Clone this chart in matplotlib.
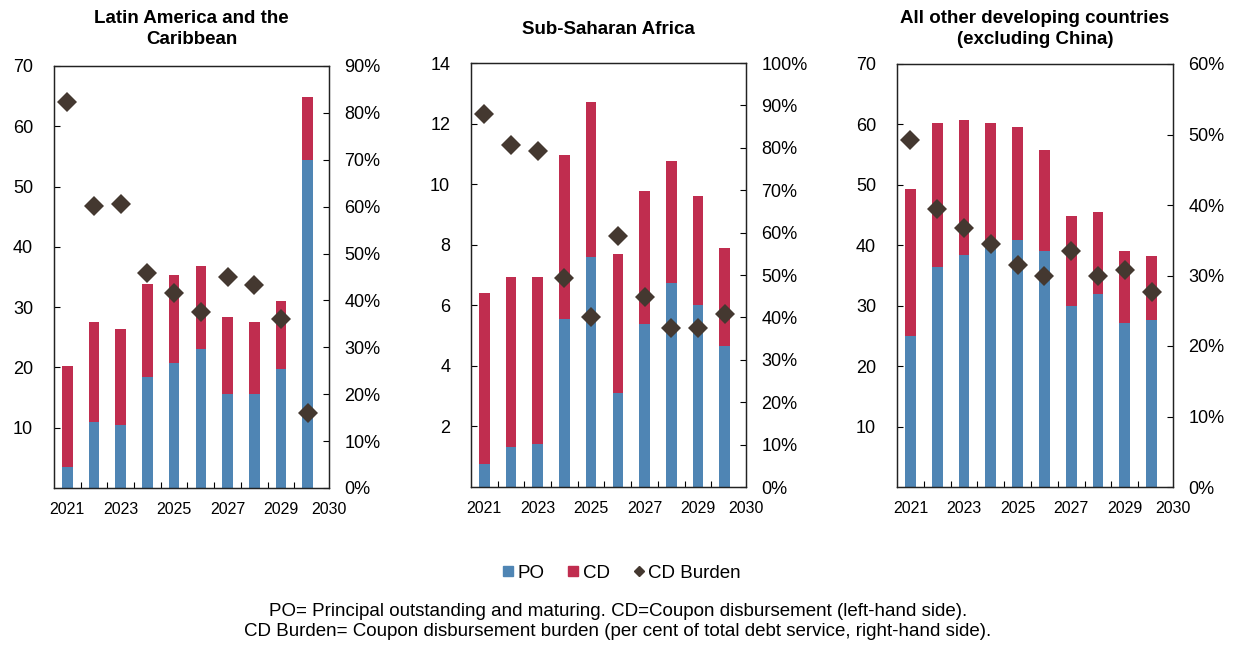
import matplotlib.pyplot as plt
from matplotlib.lines import Line2D
import numpy as np

years = [2021, 2022, 2023, 2024, 2025, 2026, 2027, 2028, 2029, 2030]
tick_labels = ["2021", "2023", "2025", "2027", "2029", "2030"]

# Latin America and the Caribbean
lac_po = [3.5, 11.0, 10.4, 18.4, 20.7, 23.1, 15.6, 15.6, 19.8, 54.4]
lac_total = [20.2, 27.5, 26.4, 33.9, 35.4, 36.8, 28.3, 27.6, 31.1, 64.9]
lac_burden = [82.3, 60.1, 60.5, 45.9, 41.6, 37.5, 45.0, 43.2, 36.1, 16.0]

# Sub-Saharan Africa
ssa_po = [0.77, 1.33, 1.43, 5.54, 7.61, 3.1, 5.39, 6.73, 6.0, 4.64]
ssa_total = [6.4, 6.92, 6.95, 10.96, 12.7, 7.69, 9.78, 10.77, 9.62, 7.88]
ssa_burden = [88.0, 80.6, 79.3, 49.4, 40.0, 59.3, 44.8, 37.5, 37.6, 40.9]

# All other developing countries (excluding China)
oth_po = [25.0, 36.4, 38.4, 39.9, 40.9, 39.0, 29.9, 31.9, 27.1, 27.7]
oth_total = [49.3, 60.2, 60.8, 60.3, 59.6, 55.8, 44.8, 45.5, 39.1, 38.3]
oth_burden = [49.2, 39.5, 36.8, 34.4, 31.5, 29.9, 33.5, 29.9, 30.8, 27.6]

BLUE = "#4f85b4"
RED = "#c02d4f"
DIAM = "#443830"
REG = ["Liberation Sans", "DejaVu Sans"]

panels = [
    dict(title="Latin America and the\nCaribbean", po=lac_po, tot=lac_total, bur=lac_burden,
         ymax=70, yticks=range(10, 71, 10), rmax=90, pos=[54, 66, 329, 488]),
    dict(title="Sub-Saharan Africa", po=ssa_po, tot=ssa_total, bur=ssa_burden,
         ymax=14, yticks=range(2, 15, 2), rmax=100, pos=[471, 63, 746, 487]),
    dict(title="All other developing countries\n(excluding China)", po=oth_po, tot=oth_total, bur=oth_burden,
         ymax=70, yticks=range(10, 71, 10), rmax=60, pos=[897, 64, 1173, 487]),
]

W, H = 1236, 646
fig = plt.figure(figsize=(W / 100, H / 100), dpi=100)

x = np.arange(len(years))
for p in panels:
    l, t, r, b = p["pos"]
    ax = fig.add_axes([l / W, 1 - b / H, (r - l) / W, (b - t) / H])
    po = np.array(p["po"])
    cd = np.array(p["tot"]) - po
    ax.bar(x, po, width=0.4, color=BLUE, zorder=2)
    ax.bar(x, cd, width=0.4, bottom=po, color=RED, zorder=2)
    ax.set_xlim(-0.5, 9.5)
    ax.set_ylim(0, p["ymax"])
    ax.set_yticks(list(p["yticks"]))
    ax.tick_params(axis="y", direction="in", length=4, width=0.8, pad=15, labelsize=13)
    for lab in ax.get_yticklabels():
        lab.set_family(REG)
    # labels sit on odd years, plus 2030 just past the right edge
    ax.set_xticks([0, 2, 4, 6, 8, 9.8])
    ax.set_xticklabels(tick_labels, family=REG, fontsize=11.5)
    ax.set_xticks(np.arange(0.5, 9, 1), minor=True)
    ax.tick_params(axis="x", which="major", length=0, pad=10)
    ax.tick_params(axis="x", which="minor", direction="in", length=4, width=0.8)
    for s in ax.spines.values():
        s.set_linewidth(0.9)
        s.set_color("#222222")

    ax2 = ax.twinx()
    ax2.plot(x, p["bur"], linestyle="none", marker="D", markersize=10,
             color=DIAM, markeredgewidth=0, zorder=3)
    ax2.set_ylim(0, p["rmax"])
    ax2.set_yticks(np.arange(0, p["rmax"] + 1, 10))
    ax2.set_yticklabels([f"{v}%" for v in range(0, p["rmax"] + 1, 10)], family=REG)
    ax2.tick_params(axis="y", direction="in", length=4, width=0.8, pad=11, labelsize=13)
    for s in ax2.spines.values():
        s.set_linewidth(0.9)
        s.set_color("#222222")

    fig.text((l + r) / 2 / W, 1 - 29 / H, p["title"], ha="center", va="center",
             family=REG, fontsize=13.5, fontweight="bold", linespacing=1.3)

handles = [
    Line2D([], [], linestyle="none", marker="s", markersize=7, color=BLUE),
    Line2D([], [], linestyle="none", marker="s", markersize=7, color=RED),
    Line2D([], [], linestyle="none", marker="D", markersize=5, color=DIAM),
]
fig.legend(handles, ["PO", "CD", "CD Burden"], loc="center", bbox_to_anchor=(621 / W, 1 - 573 / H),
           ncol=3, frameon=False, handlelength=0.7, handletextpad=0.15, columnspacing=1.2,
           prop=dict(family=REG, size=13.5))

fig.text(618 / W, 1 - 621.5 / H,
         "PO= Principal outstanding and maturing. CD=Coupon disbursement (left-hand side).\n"
         "CD Burden= Coupon disbursement burden (per cent of total debt service, right-hand side).",
         ha="center", va="center", family=REG, fontsize=13.5, linespacing=1.25)

fig.savefig("out.png", dpi=100)
